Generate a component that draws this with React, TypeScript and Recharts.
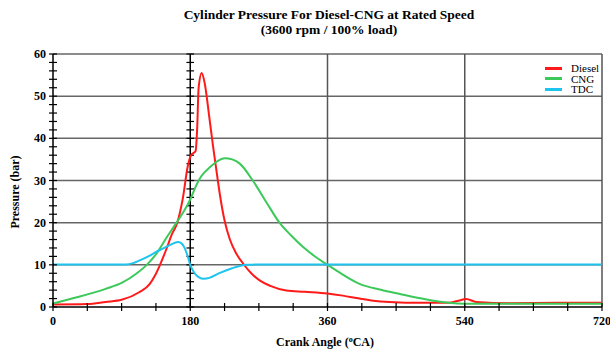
import React from "react";
import { Legend, Line, LineChart, ReferenceLine, XAxis, YAxis } from "recharts";

// crank angle (deg) / pressure (bar)
const dieselAngle = [0, 45, 69, 90, 113, 127, 135, 148, 156, 163, 170, 177, 181, 187, 189, 191, 195, 199, 205, 210, 215, 219, 225, 232, 240, 251, 260, 271, 285, 306, 330, 360, 380, 402, 420, 441, 484, 519, 530, 542, 555, 600, 660, 720];
const dieselPressure = [0.6, 0.7, 1.2, 1.7, 3.5, 5.5, 7.9, 13.4, 17.3, 20, 25.5, 33.6, 36, 37, 42, 52, 55.5, 53, 45, 38, 31.5, 26.5, 20.5, 16, 12.8, 9.9, 8, 6.3, 5, 3.9, 3.6, 3.2, 2.7, 2, 1.5, 1.2, 1.0, 1.0, 1.4, 1.9, 1.2, 0.9, 1.0, 1.0];

const cngAngle = [0, 25, 69, 90, 110, 123, 135, 149, 162, 172, 180, 187, 193, 198, 205, 215, 225, 235, 245, 262, 280, 297, 312, 328, 345, 360, 380, 402, 430, 455, 484, 519, 540, 600, 720];
const cngPressure = [0.8, 2.0, 4.3, 5.7, 8, 10, 12.5, 16.5, 20, 22.8, 25.5, 28.5, 30.6, 31.8, 33, 34.5, 35.3, 35, 34, 30, 24.8, 20, 17, 14.2, 11.8, 10, 7.7, 5.5, 4.1, 3.1, 2.0, 1.0, 0.8, 0.8, 0.8];

const tdcAngle = [0, 95, 105, 113, 125, 139, 150, 158, 164, 169, 174, 177, 180, 185, 191, 198, 205, 219, 235, 254, 270, 720];
const tdcPressure = [10.1, 10.1, 10.4, 11, 12, 13.4, 14.4, 15.1, 15.4, 15, 13.4, 11.8, 10, 8.2, 7.1, 6.7, 6.9, 8.1, 9.2, 10, 10.1, 10.1];

const xTicks = [0, 45, 90, 135, 180, 225, 270, 315, 360, 405, 450, 495, 540, 585, 630, 675, 720];
const xLabels = [0, 180, 360, 540, 720];
const yTicks = [0, 2, 4, 6, 8, 10, 12, 14, 16, 18, 20, 22, 24, 26, 28, 30, 32, 34, 36, 38, 40, 42, 44, 46, 48, 50, 52, 54, 56, 58, 60];
const yGrid = [10, 20, 30, 40, 50, 60];
const xGrid = [360, 540, 720];

const series = [
  { name: "Diesel", color: "#ff1a1a", angle: dieselAngle, pressure: dieselPressure },
  { name: "CNG", color: "#3dc95a", angle: cngAngle, pressure: cngPressure },
  { name: "TDC", color: "#1cc4ee", angle: tdcAngle, pressure: tdcPressure },
];

const FONT = '"Liberation Serif", "Times New Roman", serif';

const toPoints = (a: number[], p: number[]) => a.map((x, i) => ({ angle: x, pressure: p[i] }));

const XTick = ({ x, y, payload }: any) => (
  <g>
    <line x1={x} x2={x} y1={y - 4} y2={y + 4} stroke="#000" strokeWidth={1.2} />
    {xLabels.includes(payload.value) && (
      <text x={x} y={y + 18} textAnchor="middle" fontFamily={FONT} fontWeight="bold" fontSize={12} fill="#000">
        {payload.value}
      </text>
    )}
  </g>
);

const YTick = ({ x, y, payload }: any) => (
  <g>
    <line x1={x - 4} x2={x + 4} y1={y} y2={y} stroke="#000" strokeWidth={1.2} />
    {payload.value % 10 === 0 && (
      <text x={x - 7} y={y + 4} textAnchor="end" fontFamily={FONT} fontWeight="bold" fontSize={12} fill="#000">
        {payload.value}
      </text>
    )}
  </g>
);

const LegendBox = () => (
  <div style={{ fontFamily: FONT, fontSize: 11, lineHeight: "10.5px" }}>
    {series.map((s) => (
      <div key={s.name} style={{ display: "flex", alignItems: "center" }}>
        <span style={{ width: 17, height: 3, background: s.color, marginRight: 9 }} />
        <span>{s.name}</span>
      </div>
    ))}
  </div>
);

export default function App() {
  return (
    <div style={{ position: "absolute", left: 0, top: 0, width: 610, height: 352, background: "#fff" }}>
      <div
        style={{
          position: "absolute",
          left: 0,
          top: 7,
          width: 658,
          textAlign: "center",
          fontFamily: FONT,
          fontWeight: "bold",
          fontSize: 13.5,
          lineHeight: "15px",
        }}
      >
        Cylinder Pressure For Diesel-CNG at Rated Speed
        <br />
        (3600 rpm / 100% load)
      </div>
      <LineChart width={610} height={352} margin={{ top: 54, right: 8, bottom: 0, left: 0 }}>
        <XAxis
          type="number"
          dataKey="angle"
          domain={[0, 720]}
          ticks={xTicks}
          interval={0}
          tickSize={0}
          tickMargin={0}
          tickLine={false}
          tick={<XTick />}
          height={45}
          axisLine={{ stroke: "#000", strokeWidth: 1.5 }}
          label={{
            position: "insideBottom",
            content: ({ viewBox }: any) => (
              <text x={325} y={viewBox.y + 39} textAnchor="middle" fontFamily={FONT} fontWeight="bold" fontSize={12} fill="#000">
                Crank Angle (<tspan dy={-4} fontSize={8}>o</tspan>
                <tspan dy={4}>CA)</tspan>
              </text>
            ),
          }}
        />
        <YAxis
          type="number"
          domain={[0, 60]}
          ticks={yTicks}
          interval={0}
          width={53}
          tickSize={0}
          tickMargin={0}
          tickLine={false}
          tick={<YTick />}
          axisLine={{ stroke: "#000", strokeWidth: 1.5 }}
          label={{
            position: "insideLeft",
            content: () => (
              <text
                x={19}
                y={192}
                transform="rotate(-90 19 192)"
                textAnchor="middle"
                fontFamily={FONT}
                fontWeight="bold"
                fontSize={12}
                fill="#000"
              >
                Pressure (bar)
              </text>
            ),
          }}
        />
        {yGrid.map((v) => (
          <ReferenceLine key={`h${v}`} y={v} stroke="#666" strokeWidth={1.5} />
        ))}
        {xGrid.map((v) => (
          <ReferenceLine key={`v${v}`} x={v} stroke="#555" strokeWidth={1.5} />
        ))}
        <ReferenceLine x={180} stroke="#000" strokeWidth={1.5} />
        {yTicks.map((v) => (
          <ReferenceLine
            key={`t${v}`}
            segment={[
              { x: 175, y: v },
              { x: 185, y: v },
            ]}
            stroke="#000"
            strokeWidth={1.2}
          />
        ))}
        <Legend
          layout="vertical"
          verticalAlign="middle"
          align="center"
          wrapperStyle={{ position: "absolute", top: 63, left: 545, width: 65 }}
          content={() => <LegendBox />}
        />
        {series.map((s) => (
          <Line
            key={s.name}
            name={s.name}
            data={toPoints(s.angle, s.pressure)}
            dataKey="pressure"
            type="monotone"
            stroke={s.color}
            strokeWidth={2}
            dot={false}
            activeDot={false}
            isAnimationActive={false}
          />
        ))}
      </LineChart>
    </div>
  );
}
